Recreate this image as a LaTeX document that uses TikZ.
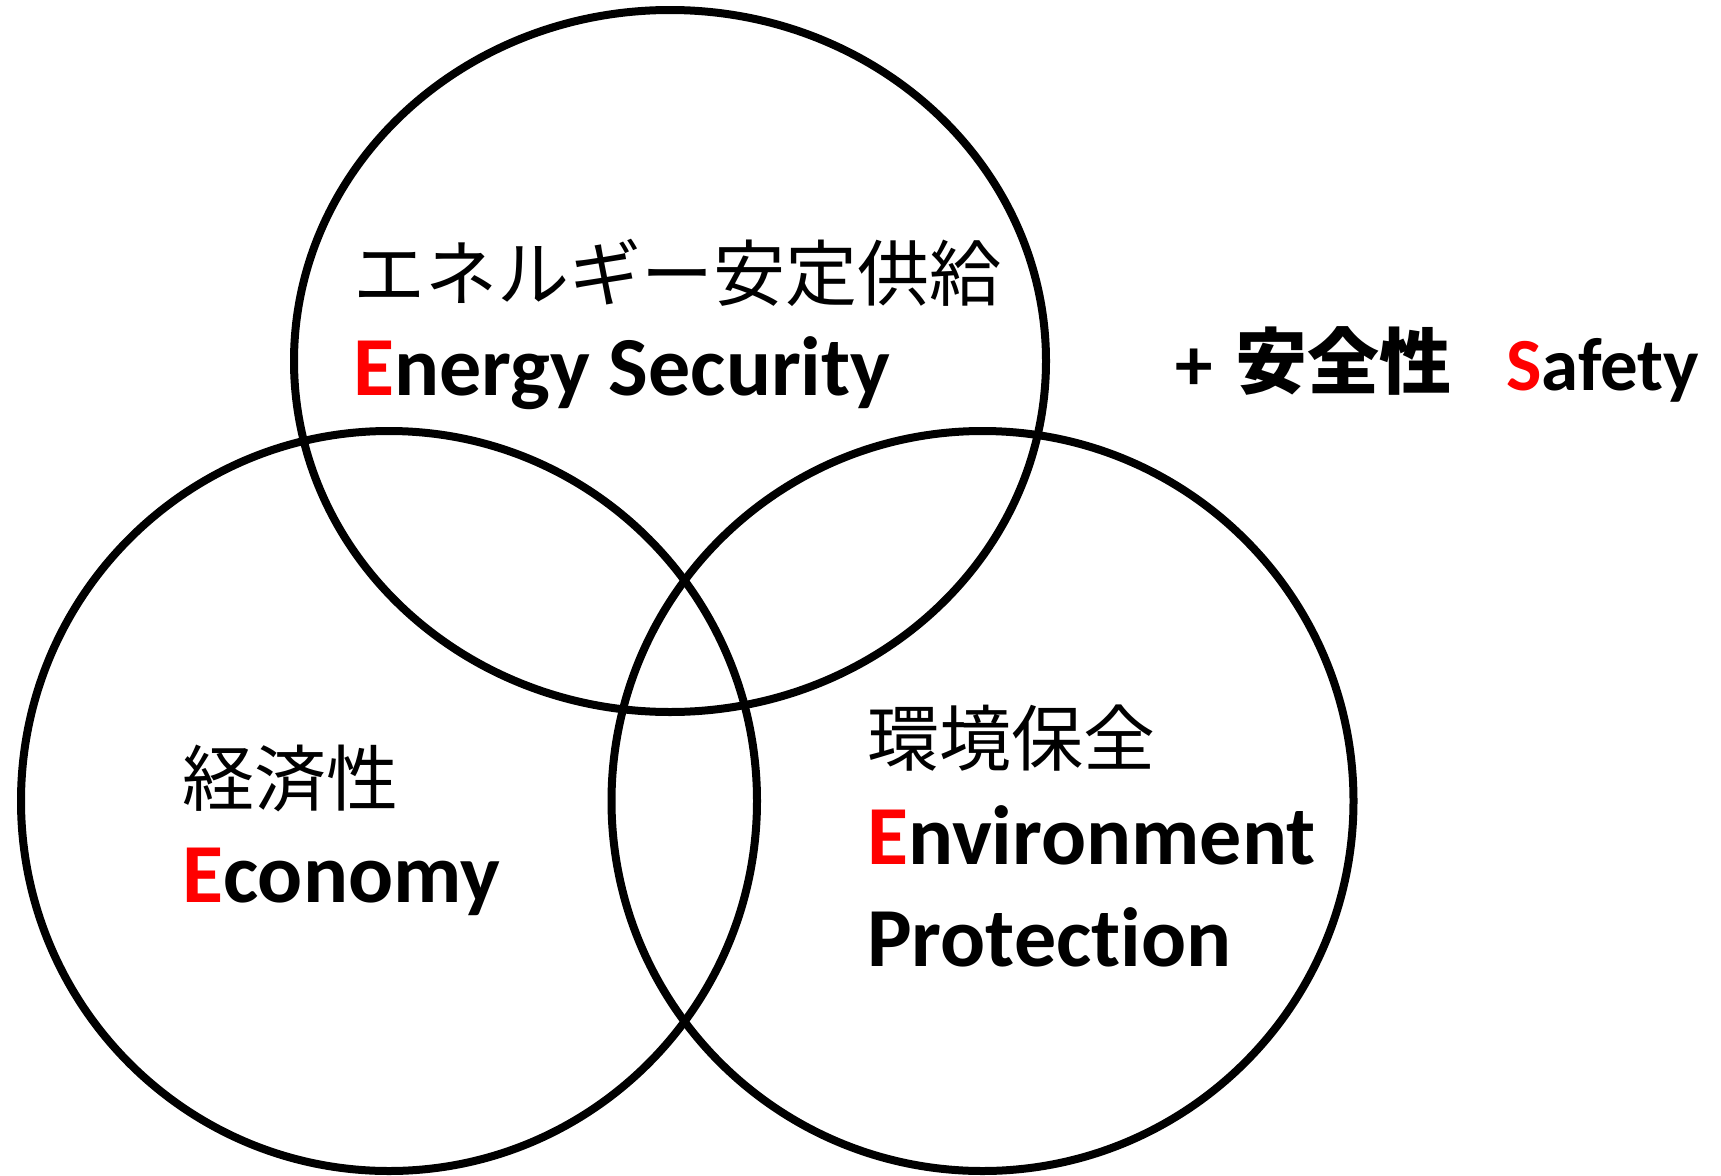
\documentclass[tikz,border=0pt]{standalone}
\usepackage{fontspec}
\setmainfont{Carlito}[Ligatures=NoCommon]
\newfontfamily\cjk{Noto Sans CJK JP}
\begin{document}
\begin{tikzpicture}[x=1pt,y=-1pt,
  ring/.style={draw=black,line width=8pt},
  jp/.style={inner sep=0pt,anchor=base west,font=\cjk\fontsize{72}{72}\selectfont},
  jpb/.style={inner sep=0pt,anchor=base west,font=\cjk\bfseries\fontsize{72}{72}\selectfont},
  en/.style={inner sep=0pt,anchor=base west,font=\bfseries\fontsize{84}{84}\selectfont},
  ensm/.style={inner sep=0pt,anchor=base west,font=\bfseries\fontsize{75}{75}\selectfont}]
\useasboundingbox (0,0) rectangle (1721,1175);
% circles
\draw[ring] (670,361) ellipse [x radius=376pt, y radius=351pt];
\draw[ring] (389,801) ellipse [x radius=368pt, y radius=370pt];
\draw[ring] (982.5,801) ellipse [x radius=371pt, y radius=370pt];
% energy security
\node[jp] (esjp) at (353,300) {エネルギー安定供給};
\node[en] (esen) at (353,395) {\textcolor{red}{E}nergy Security};
% safety
\node[ensm] (plus) at (1175,390) {+};
\node[jpb] (sfjp) at (1235,388) {安全性};
\node[ensm] (sfen) at (1506,390) {\textcolor{red}{S}afety};
% economy
\node[jp] (ecjp) at (182,805) {経済性};
\node[en] (ecen) at (182,902) {\textcolor{red}{E}conomy};
% environment
\node[jp] (envjp) at (867,765) {環境保全};
\node[en] (enven) at (867,864) {\textcolor{red}{E}nvironment};
\node[en] (envpr) at (867,966) {Protection};
\end{tikzpicture}
\end{document}
